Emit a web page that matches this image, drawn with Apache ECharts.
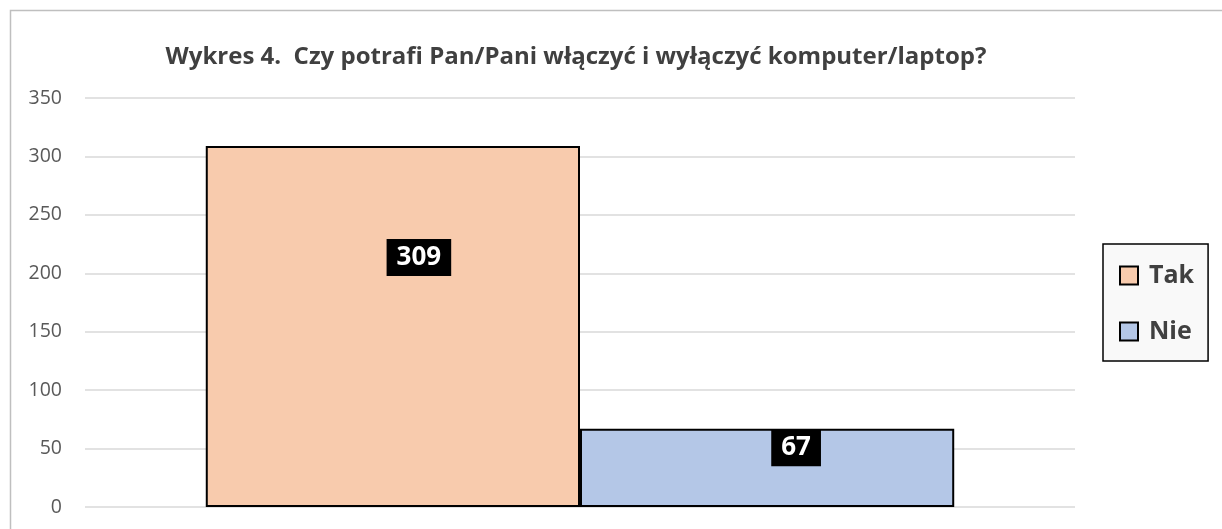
<!DOCTYPE html>
<html>
<head>
<meta charset="utf-8">
<script src="https://cdn.jsdelivr.net/npm/echarts@6/dist/echarts.min.js"></script>
<style>
  html, body { margin: 0; padding: 0; background: #fff; }
  #chart { width: 1222px; height: 529px; }
</style>
</head>
<body>
<div id="chart"></div>
<script>
// dane wykresu
const categories = ['']
const seriesNames = ['Tak', 'Nie']
const takValues = [309]
const nieValues = [67]
const yTicks = [0, 50, 100, 150, 200, 250, 300, 350]

const chart = echarts.init(document.getElementById('chart'))

// etykieta z czarnym tłem
function boxLabel(offsetX, offsetY) {
    return {
        show: true,
        position: 'inside',
        offset: [offsetX, offsetY],
        color: '#fff',
        backgroundColor: '#000',
        fontFamily: 'Open Sans',
        fontWeight: 'bold',
        fontSize: 26,
        lineHeight: 30,
        padding: [4, 10, 3, 10]
    }
}

const option = {
    animation: false,
    graphic: [{
        type: 'rect',
        shape: { x: 10.5, y: 10.5, width: 1230, height: 540 },
        style: { fill: 'none', stroke: '#bfbfbf', lineWidth: 1.5 },
        silent: true
    }],
    title: {
        text: 'Wykres 4.  Czy potrafi Pan/Pani włączyć i wyłączyć komputer/laptop?',
        left: 571,
        top: 40,
        textAlign: 'center',
        textStyle: {
            fontFamily: 'Open Sans',
            fontWeight: 'bold',
            fontSize: 24,
            color: '#404040'
        }
    },
    legend: {
        data: seriesNames,
        orient: 'vertical',
        left: 1103,
        top: 244,
        itemWidth: 18,
        itemHeight: 18,
        itemGap: 31,
        padding: [19, 14, 17, 16],
        borderColor: '#000',
        borderWidth: 1.5,
        backgroundColor: '#f9f9f9',
        icon: 'rect',
        textStyle: {
            fontFamily: 'Open Sans',
            fontWeight: 'bold',
            fontSize: 25,
            color: '#404040',
            padding: [0, 0, 0, 6]
        }
    },
    grid: {
        left: 85,
        right: 147,
        top: 98,
        bottom: 22
    },
    xAxis: {
        type: 'category',
        data: categories,
        axisLine: { show: false },
        axisTick: { show: false },
        axisLabel: { show: false }
    },
    yAxis: {
        type: 'value',
        min: yTicks[0],
        max: yTicks[yTicks.length - 1],
        interval: 50,
        axisLine: { show: false },
        axisTick: { show: false },
        splitLine: { lineStyle: { color: '#d9d9d9', width: 1.5 } },
        axisLabel: {
            margin: 23,
            fontFamily: 'Open Sans',
            fontSize: 19.5,
            color: '#595959'
        }
    },
    series: [
        {
            name: seriesNames[0],
            type: 'bar',
            data: takValues,
            barGap: '0%',
            barCategoryGap: '24.4%',
            itemStyle: { color: '#f8cbad', borderColor: '#000', borderWidth: 2 },
            label: boxLabel(26, -69)
        },
        {
            name: seriesNames[1],
            type: 'bar',
            data: nieValues,
            barGap: '0%',
            barCategoryGap: '24.4%',
            itemStyle: { color: '#b4c7e7', borderColor: '#000', borderWidth: 2 },
            label: boxLabel(29, -20)
        }
    ]
}

chart.setOption(option)
</script>
</body>
</html>
